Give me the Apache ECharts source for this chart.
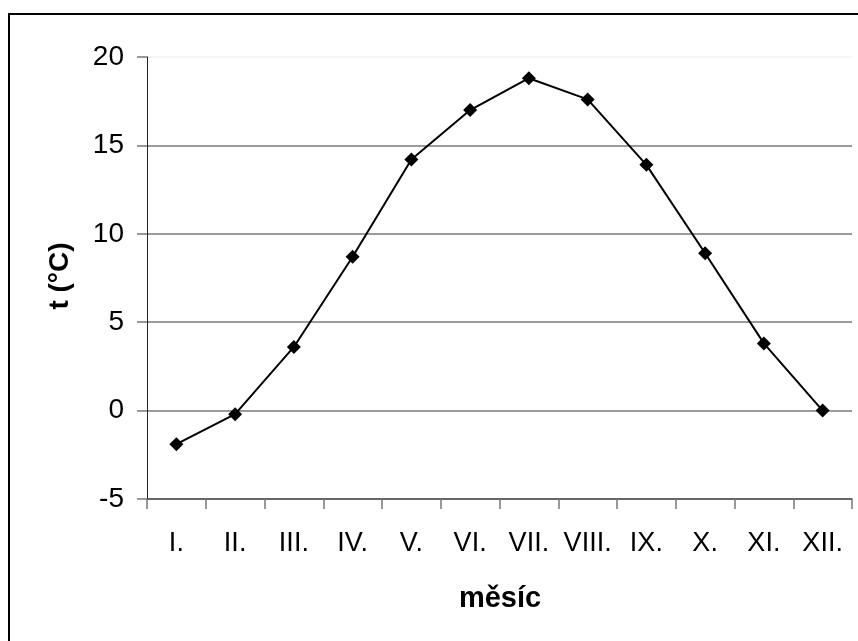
<!DOCTYPE html>
<html>
<head>
<meta charset="utf-8">
<script src="https://cdn.jsdelivr.net/npm/echarts@6/dist/echarts.min.js"></script>
<style>
  html, body { margin: 0; padding: 0; background: #fff; }
  #chart { width: 858px; height: 641px; }
</style>
</head>
<body>
<div id="chart"></div>
<script>
// Měsíční průměrné teploty
const months = ['I.', 'II.', 'III.', 'IV.', 'V.', 'VI.', 'VII.', 'VIII.', 'IX.', 'X.', 'XI.', 'XII.'];
const temperatures = [-1.9, -0.2, 3.6, 8.7, 14.2, 17.0, 18.8, 17.6, 13.9, 8.9, 3.8, 0.0];
const yTicks = [-5, 0, 5, 10, 15, 20];

const FONT = '"Liberation Sans", Arial, sans-serif';

const chart = echarts.init(document.getElementById('chart'), null, { renderer: 'canvas' });

chart.setOption({
  animation: false,
  backgroundColor: '#ffffff',
  grid: { left: 147, right: 6, top: 57, bottom: 142, containLabel: false },
  xAxis: {
    type: 'category',
    data: months,
    boundaryGap: true,
    axisLine: { show: true, onZero: false, lineStyle: { color: '#555', width: 1.5 } },
    axisTick: { show: true, alignWithLabel: false, length: 10, lineStyle: { color: '#777', width: 1.5 } },
    axisLabel: { color: '#000', fontFamily: FONT, fontSize: 27, margin: 31, interval: 0 },
    splitLine: { show: false }
  },
  yAxis: {
    type: 'value',
    min: yTicks[0],
    max: yTicks[yTicks.length - 1],
    interval: 5,
    axisLine: { show: true, lineStyle: { color: '#222', width: 1 } },
    axisTick: { show: true, length: 10, lineStyle: { color: '#777', width: 1.5 } },
    axisLabel: { color: '#000', fontFamily: FONT, fontSize: 28, margin: 23 },
    splitLine: {
      show: true,
      lineStyle: { color: ['#7a7a7a', '#7a7a7a', '#7a7a7a', '#7a7a7a', '#7a7a7a', '#f2f2f2'], width: 1.5 }
    }
  },
  series: [{
    type: 'line',
    data: temperatures,
    symbol: 'diamond',
    symbolSize: 14,
    showSymbol: true,
    lineStyle: { color: '#000', width: 2 },
    itemStyle: { color: '#000' },
    z: 5
  }],
  graphic: [
    {
      type: 'rect',
      shape: { x: 9, y: 14, width: 900, height: 700 },
      style: { fill: 'none', stroke: '#000', lineWidth: 2 },
      silent: true
    },
    {
      type: 'text',
      x: 60, y: 276,
      rotation: Math.PI / 2,
      style: { text: 't (°C)', font: 'bold 28px ' + FONT, fill: '#000', align: 'center', verticalAlign: 'middle' }
    },
    {
      type: 'text',
      x: 500, y: 599,
      style: { text: 'měsíc', font: 'bold 29px ' + FONT, fill: '#000', align: 'center', verticalAlign: 'middle' }
    }
  ]
});
</script>
</body>
</html>
